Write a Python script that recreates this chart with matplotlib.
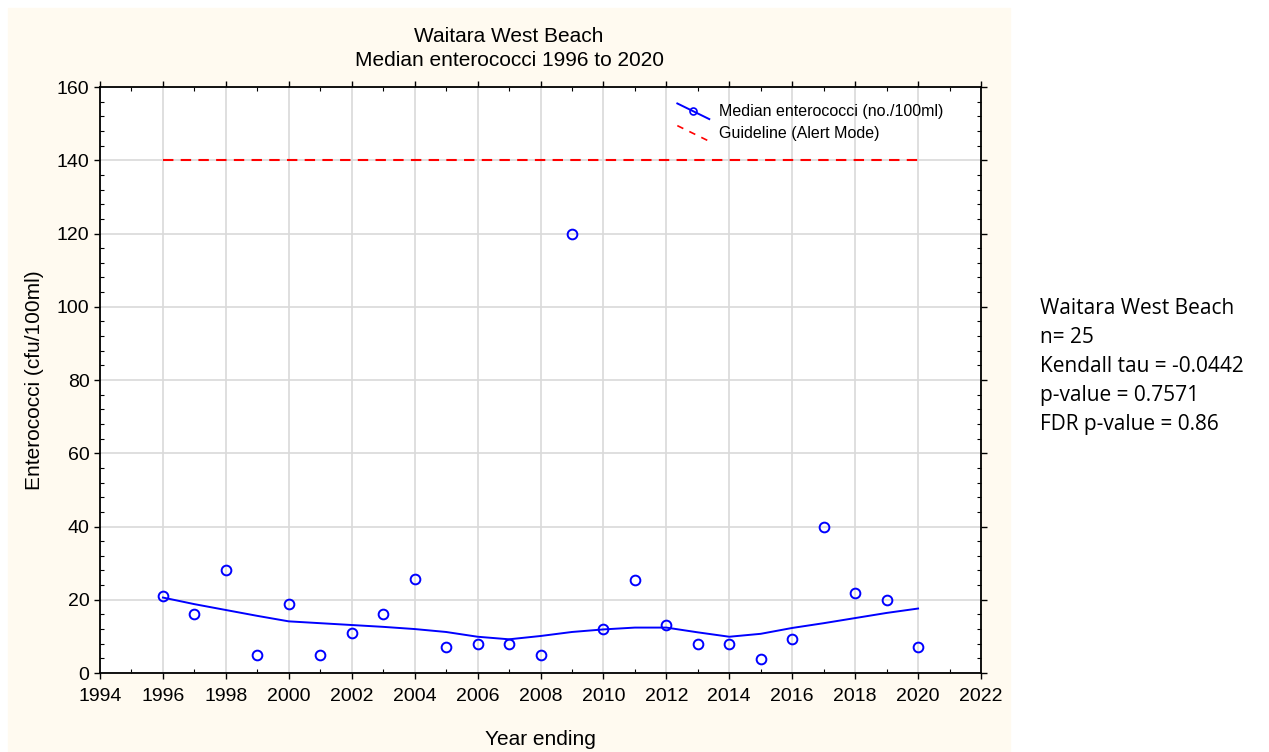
import matplotlib
matplotlib.use("Agg")
import matplotlib.pyplot as plt
from matplotlib.lines import Line2D
from matplotlib.legend_handler import HandlerLine2D
from matplotlib.patches import Rectangle
from matplotlib.ticker import MultipleLocator

plt.rcParams["font.family"] = ["Liberation Sans", "DejaVu Sans"]

years = list(range(1996, 2021))
medians = [21, 16.2, 28, 5, 18.8, 5, 11, 16.2, 25.8, 7, 8, 8, 5, 120,
           12, 25.3, 13.1, 8, 8, 3.9, 9.2, 40, 21.9, 20, 7]
# lowess trend
trend = [20.6, 18.8, 17.2, 15.6, 14.1, 13.6, 13.1, 12.6, 12.0, 11.2, 9.9,
         9.2, 10.1, 11.2, 11.9, 12.4, 12.4, 11.1, 9.9, 10.7, 12.3, 13.6,
         15.0, 16.4, 17.6]
guide_years = [1996, 2020]
guide_value = [140, 140]

stats_text = ("Waitara West Beach\nn= 25\nKendall tau = -0.0442\n"
              "p-value = 0.7571\nFDR p-value = 0.86")


class DiagonalHandler(HandlerLine2D):
    # legend key drawn as a short line falling left to right
    def create_artists(self, legend, orig, xdescent, ydescent, width,
                       height, fontsize, trans):
        ln = Line2D([-xdescent, width - xdescent],
                    [height * 1.15 - ydescent, -height * 0.25 - ydescent])
        self.update_prop(ln, orig, legend)
        ln.set_marker("None")
        ln.set_transform(trans)
        arts = [ln]
        if orig.get_marker() not in (None, "None", ""):
            mk = Line2D([width / 2 - xdescent], [height / 2 - ydescent])
            self.update_prop(mk, orig, legend)
            mk.set_linestyle("None")
            mk.set_markersize(5)
            mk.set_transform(trans)
            arts.append(mk)
        return arts


fig = plt.figure(figsize=(12.69, 7.52), dpi=100)
fig.patches.append(Rectangle((8 / 1269, 0), 1002 / 1269, 744 / 752,
                             transform=fig.transFigure, color="#fffaf0",
                             zorder=-10))
ax = fig.add_axes([100 / 1269, 1 - 673 / 752, 881 / 1269, 586 / 752])
ax.set_zorder(1)
ax.set_facecolor("white")

ax.plot(years, medians, "o", mfc="none", mec="blue", ms=7, mew=1.4,
        zorder=3)
ax.plot(years, trend, "-", color="blue", lw=1.4, zorder=3)
h1 = Line2D([], [], color="blue", lw=1.4, marker="o", mfc="none",
            mec="blue", mew=1.2)
ax.plot(guide_years, guide_value, color="red", lw=1.5,
        dashes=(5, 3.5), zorder=2)
h2 = Line2D([], [], color="red", lw=1.2, dashes=(4, 4))

ax.set_xlim(1994, 2022)
ax.set_ylim(0, 160)
ax.xaxis.set_major_locator(MultipleLocator(2))
ax.xaxis.set_minor_locator(MultipleLocator(1))
ax.yaxis.set_major_locator(MultipleLocator(20))
ax.yaxis.set_minor_locator(MultipleLocator(4))
ax.tick_params(which="both", top=True, right=True, labelsize=14,
               color="black")
ax.tick_params(which="major", direction="out", length=4, width=1)
ax.tick_params(which="minor", direction="in", length=3, width=0.8)
ax.tick_params(axis="x", pad=7)
ax.grid(True, which="major", color="#d9d9d9", lw=1.2, zorder=0)
for s in ax.spines.values():
    s.set_linewidth(1.3)

ax.set_xlabel("Year ending", fontsize=15, labelpad=18)
ax.set_ylabel("Enterococci (cfu/100ml)", fontsize=15, labelpad=9)

ax.legend([h1, h2], ["Median enterococci (no./100ml)",
                     "Guideline (Alert Mode)"],
          handler_map={Line2D: DiagonalHandler()},
          loc="upper left", bbox_to_anchor=(0.639, 0.995), frameon=False,
          fontsize=11.5, handlelength=2.0, handletextpad=0.6,
          labelspacing=0.45)

fig.text(509 / 1269, 1 - 36 / 752, "Waitara West Beach", ha="center",
         va="center", fontsize=15)
fig.text(509 / 1269, 1 - 61 / 752, "Median enterococci 1996 to 2020",
         ha="center", va="center", fontsize=15)

fig.text(1040 / 1269, 1 - 298 / 752, stats_text, ha="left", va="top",
         fontsize=15, family=["Open Sans", "DejaVu Sans"], linespacing=1.5)

fig.savefig("out.png", dpi=100)
